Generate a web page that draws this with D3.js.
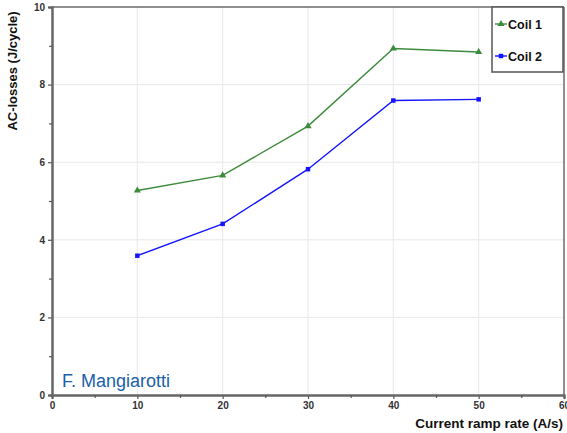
<!DOCTYPE html>
<html>
<head>
<meta charset="utf-8">
<script src="https://cdn.jsdelivr.net/npm/d3@7"></script>
<style>
  html, body { margin: 0; padding: 0; background: #fff; }
  svg { display: block; font-family: "Liberation Sans", Arial, sans-serif; }
</style>
</head>
<body>
<svg id="chart" width="567" height="433"></svg>
<script>
// Ramp rates (A/s) and measured AC losses (J/cycle)
const rampRates = [10, 20, 30, 40, 50];
const coil1 = [5.27, 5.66, 6.93, 8.93, 8.84];
const coil2 = [3.59, 4.41, 5.82, 7.59, 7.62];
const seriesNames = ["Coil 1", "Coil 2"];
const xTicks = [0, 10, 20, 30, 40, 50, 60];
const yTicks = [0, 2, 4, 6, 8, 10];

const svg = d3.select("#chart");
const plotL = 52, plotR = 564, plotT = 7, plotB = 395;

const x = d3.scaleLinear().domain([0, 60]).range([plotL, plotR]);
const y = d3.scaleLinear().domain([0, 10]).range([plotB, plotT]);

// grid
const grid = svg.append("g").attr("stroke", "#e8e8e8").attr("stroke-width", 1);
grid.selectAll("line.gx").data(xTicks.filter(d => d > 0 && d < 60)).join("line")
  .attr("x1", d => x(d)).attr("x2", d => x(d)).attr("y1", plotT).attr("y2", plotB);
grid.selectAll("line.gy").data(yTicks.filter(d => d > 0 && d < 10)).join("line")
  .attr("y1", d => y(d)).attr("y2", d => y(d)).attr("x1", plotL).attr("x2", plotR);

// frame: top and right borders
svg.append("line").attr("x1", plotL).attr("x2", plotR).attr("y1", plotT).attr("y2", plotT)
  .attr("stroke", "#6a6a6a").attr("stroke-width", 1.5);
svg.append("line").attr("x1", plotR).attr("x2", plotR).attr("y1", plotT).attr("y2", plotB)
  .attr("stroke", "#6a6a6a").attr("stroke-width", 1.5);

// axes
const xAxis = svg.append("g").attr("transform", `translate(0,${plotB})`)
  .call(d3.axisBottom(x).tickValues(xTicks).tickSize(4).tickPadding(3).tickFormat(d3.format("d")));
const xMinor = svg.append("g").attr("transform", `translate(0,${plotB})`)
  .call(d3.axisBottom(x).tickValues(d3.range(5, 60, 10)).tickSize(3).tickFormat(""));
const yAxis = svg.append("g").attr("transform", `translate(${plotL},0)`)
  .call(d3.axisLeft(y).tickValues(yTicks).tickSize(4).tickPadding(3).tickFormat(d3.format("d")));
const yMinor = svg.append("g").attr("transform", `translate(${plotL},0)`)
  .call(d3.axisLeft(y).tickValues(d3.range(1, 10, 2)).tickSize(3).tickFormat(""));

[xAxis, xMinor, yAxis, yMinor].forEach(g => {
  g.select(".domain").attr("stroke", "#666").attr("stroke-width", 2);
  g.selectAll(".tick line").attr("stroke", "#555").attr("stroke-width", 1.2);
  g.selectAll(".tick text").attr("fill", "#333").attr("font-size", 10)
    .attr("font-weight", "bold").attr("font-family", "Liberation Sans, Arial, sans-serif");
});

// axis titles
svg.append("text").attr("x", 563).attr("y", 428).attr("text-anchor", "end")
  .attr("font-size", 13.5).attr("font-weight", "bold").attr("fill", "#111")
  .text("Current ramp rate (A/s)");
svg.append("text").attr("transform", "translate(17,71) rotate(-90)").attr("text-anchor", "middle")
  .attr("font-size", 13).attr("font-weight", "bold").attr("fill", "#111")
  .text("AC-losses (J/cycle)");

// series
const colors = ["#3d8b3d", "#1414ff"];
const series = [coil1, coil2];
const line = d3.line().x((d, i) => x(rampRates[i])).y(d => y(d));
const tri = d3.symbol().type(d3.symbolTriangle).size(22);
const sq = d3.symbol().type(d3.symbolSquare).size(20);

series.forEach((vals, k) => {
  svg.append("path").datum(vals).attr("d", line)
    .attr("fill", "none").attr("stroke", colors[k]).attr("stroke-width", 1.4);
  svg.selectAll(null).data(vals).join("path")
    .attr("transform", (d, i) => `translate(${x(rampRates[i])},${y(d)})`)
    .attr("d", k === 0 ? tri : sq).attr("fill", colors[k]);
});

// legend
const lg = svg.append("g");
lg.append("rect").attr("x", 492).attr("y", 7).attr("width", 71).attr("height", 65)
  .attr("fill", "#fff").attr("stroke", "#555").attr("stroke-width", 1.5);
seriesNames.forEach((name, k) => {
  const cy = 24 + k * 32;
  lg.append("line").attr("x1", 495).attr("x2", 507).attr("y1", cy).attr("y2", cy)
    .attr("stroke", colors[k]).attr("stroke-width", 1.4);
  lg.append("path").attr("transform", `translate(501,${cy})`)
    .attr("d", k === 0 ? tri : sq).attr("fill", colors[k]);
  lg.append("text").attr("x", 508).attr("y", cy + 4.5).attr("font-size", 12.5)
    .attr("font-weight", "bold").attr("fill", "#111").text(name);
});

// author credit
svg.append("text").attr("x", 62).attr("y", 387).attr("font-size", 18)
  .attr("fill", "#1a5fa8").text("F. Mangiarotti");
</script>
</body>
</html>
